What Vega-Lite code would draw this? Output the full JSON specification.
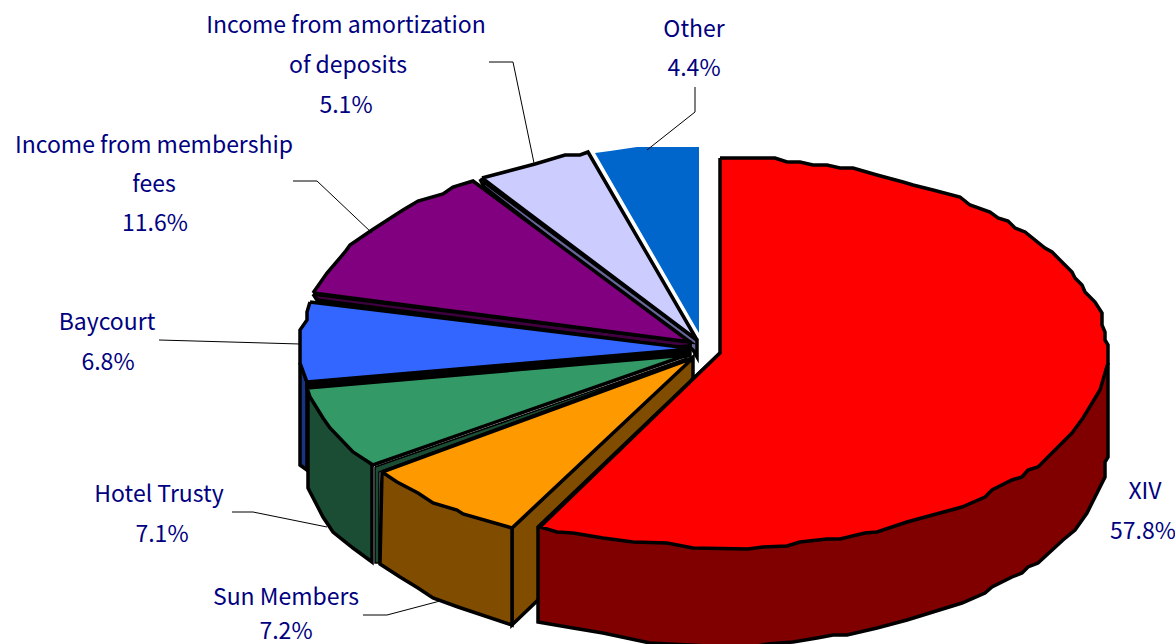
{"$schema":"https://vega.github.io/schema/vega-lite/v6.json","width":1175,"height":644,"padding":0,"autosize":{"type":"none"},"background":"white","view":{"stroke":null},
"config":{"font":"Noto Sans CJK JP"},
"datasets":{"outlines":[
{"part":"Other","i":0,"x":595,"y":153},{"part":"Other","i":1,"x":610,"y":151},{"part":"Other","i":2,"x":637,"y":147},{"part":"Other","i":3,"x":699,"y":147},{"part":"Other","i":4,"x":699,"y":333},{"part":"Other","i":5,"x":595,"y":153},
{"part":"Deposits side","i":0,"x":480,"y":179},{"part":"Deposits side","i":1,"x":484,"y":187},{"part":"Deposits side","i":2,"x":693,"y":350},{"part":"Deposits side","i":3,"x":697,"y":357},{"part":"Deposits side","i":4,"x":697,"y":340},{"part":"Deposits side","i":5,"x":480,"y":179},
{"part":"Deposits","i":0,"x":482,"y":178},{"part":"Deposits","i":1,"x":535,"y":164},{"part":"Deposits","i":2,"x":565,"y":155},{"part":"Deposits","i":3,"x":580,"y":155},{"part":"Deposits","i":4,"x":588,"y":152},{"part":"Deposits","i":5,"x":697,"y":340},{"part":"Deposits","i":6,"x":482,"y":178},
{"part":"Membership side","i":0,"x":313,"y":294},{"part":"Membership side","i":1,"x":317,"y":300},{"part":"Membership side","i":2,"x":690,"y":349},{"part":"Membership side","i":3,"x":690,"y":342},{"part":"Membership side","i":4,"x":313,"y":294},
{"part":"Membership","i":0,"x":313,"y":293},{"part":"Membership","i":1,"x":327,"y":273},{"part":"Membership","i":2,"x":345,"y":252},{"part":"Membership","i":3,"x":350,"y":245},{"part":"Membership","i":4,"x":372,"y":230},{"part":"Membership","i":5,"x":403,"y":210},{"part":"Membership","i":6,"x":418,"y":201},{"part":"Membership","i":7,"x":443,"y":194},{"part":"Membership","i":8,"x":453,"y":187},{"part":"Membership","i":9,"x":473,"y":181},{"part":"Membership","i":10,"x":690,"y":342},{"part":"Membership","i":11,"x":313,"y":293},
{"part":"Baycourt side","i":0,"x":300,"y":363},{"part":"Baycourt side","i":1,"x":300,"y":465},{"part":"Baycourt side","i":2,"x":307,"y":470},{"part":"Baycourt side","i":3,"x":307,"y":382},{"part":"Baycourt side","i":4,"x":300,"y":363},
{"part":"Baycourt inner","i":0,"x":307,"y":382},{"part":"Baycourt inner","i":1,"x":307,"y":388},{"part":"Baycourt inner","i":2,"x":690,"y":356},{"part":"Baycourt inner","i":3,"x":690,"y":346},{"part":"Baycourt inner","i":4,"x":307,"y":382},
{"part":"Baycourt","i":0,"x":310,"y":302},{"part":"Baycourt","i":1,"x":307,"y":312},{"part":"Baycourt","i":2,"x":307,"y":320},{"part":"Baycourt","i":3,"x":300,"y":330},{"part":"Baycourt","i":4,"x":300,"y":363},{"part":"Baycourt","i":5,"x":307,"y":382},{"part":"Baycourt","i":6,"x":680,"y":350},{"part":"Baycourt","i":7,"x":680,"y":347},{"part":"Baycourt","i":8,"x":310,"y":302},
{"part":"Hotel side","i":0,"x":308,"y":392},{"part":"Hotel side","i":1,"x":308,"y":488},{"part":"Hotel side","i":2,"x":323,"y":517},{"part":"Hotel side","i":3,"x":333,"y":532},{"part":"Hotel side","i":4,"x":353,"y":548},{"part":"Hotel side","i":5,"x":372,"y":562},{"part":"Hotel side","i":6,"x":372,"y":465},{"part":"Hotel side","i":7,"x":308,"y":392},
{"part":"Hotel inner","i":0,"x":375,"y":467},{"part":"Hotel inner","i":1,"x":375,"y":563},{"part":"Hotel inner","i":2,"x":379,"y":563},{"part":"Hotel inner","i":3,"x":379,"y":472},{"part":"Hotel inner","i":4,"x":687,"y":358},{"part":"Hotel inner","i":5,"x":375,"y":467},
{"part":"Hotel","i":0,"x":307,"y":388},{"part":"Hotel","i":1,"x":310,"y":397},{"part":"Hotel","i":2,"x":323,"y":418},{"part":"Hotel","i":3,"x":330,"y":428},{"part":"Hotel","i":4,"x":353,"y":452},{"part":"Hotel","i":5,"x":373,"y":465},{"part":"Hotel","i":6,"x":687,"y":355},{"part":"Hotel","i":7,"x":307,"y":388},
{"part":"Sun inner","i":0,"x":512,"y":528},{"part":"Sun inner","i":1,"x":512,"y":625},{"part":"Sun inner","i":2,"x":540,"y":598},{"part":"Sun inner","i":3,"x":693,"y":378},{"part":"Sun inner","i":4,"x":693,"y":357},{"part":"Sun inner","i":5,"x":512,"y":528},
{"part":"Sun side","i":0,"x":382,"y":472},{"part":"Sun side","i":1,"x":380,"y":564},{"part":"Sun side","i":2,"x":400,"y":577},{"part":"Sun side","i":3,"x":418,"y":588},{"part":"Sun side","i":4,"x":433,"y":598},{"part":"Sun side","i":5,"x":458,"y":607},{"part":"Sun side","i":6,"x":512,"y":625},{"part":"Sun side","i":7,"x":512,"y":528},{"part":"Sun side","i":8,"x":382,"y":472},
{"part":"Sun","i":0,"x":382,"y":472},{"part":"Sun","i":1,"x":397,"y":482},{"part":"Sun","i":2,"x":418,"y":493},{"part":"Sun","i":3,"x":433,"y":503},{"part":"Sun","i":4,"x":457,"y":510},{"part":"Sun","i":5,"x":463,"y":514},{"part":"Sun","i":6,"x":512,"y":528},{"part":"Sun","i":7,"x":693,"y":358},{"part":"Sun","i":8,"x":382,"y":472},
{"part":"XIV side","i":0,"x":1108,"y":363},{"part":"XIV side","i":1,"x":1108,"y":457},{"part":"XIV side","i":2,"x":1105,"y":462},{"part":"XIV side","i":3,"x":1105,"y":477},{"part":"XIV side","i":4,"x":1087,"y":513},{"part":"XIV side","i":5,"x":1075,"y":530},{"part":"XIV side","i":6,"x":1063,"y":540},{"part":"XIV side","i":7,"x":1038,"y":563},{"part":"XIV side","i":8,"x":1028,"y":567},{"part":"XIV side","i":9,"x":1022,"y":573},{"part":"XIV side","i":10,"x":1012,"y":577},{"part":"XIV side","i":11,"x":992,"y":587},{"part":"XIV side","i":12,"x":985,"y":593},{"part":"XIV side","i":13,"x":962,"y":603},{"part":"XIV side","i":14,"x":907,"y":620},{"part":"XIV side","i":15,"x":877,"y":628},{"part":"XIV side","i":16,"x":847,"y":635},{"part":"XIV side","i":17,"x":833,"y":635},{"part":"XIV side","i":18,"x":817,"y":638},{"part":"XIV side","i":19,"x":793,"y":642},{"part":"XIV side","i":20,"x":767,"y":644},{"part":"XIV side","i":21,"x":748,"y":648},{"part":"XIV side","i":22,"x":650,"y":643},{"part":"XIV side","i":23,"x":603,"y":633},{"part":"XIV side","i":24,"x":573,"y":628},{"part":"XIV side","i":25,"x":538,"y":622},{"part":"XIV side","i":26,"x":538,"y":527},{"part":"XIV side","i":27,"x":720,"y":353},{"part":"XIV side","i":28,"x":1108,"y":363},
{"part":"XIV","i":0,"x":720,"y":158},{"part":"XIV","i":1,"x":775,"y":158},{"part":"XIV","i":2,"x":787,"y":162},{"part":"XIV","i":3,"x":800,"y":162},{"part":"XIV","i":4,"x":813,"y":165},{"part":"XIV","i":5,"x":827,"y":165},{"part":"XIV","i":6,"x":840,"y":168},{"part":"XIV","i":7,"x":853,"y":168},{"part":"XIV","i":8,"x":877,"y":175},{"part":"XIV","i":9,"x":903,"y":182},{"part":"XIV","i":10,"x":913,"y":185},{"part":"XIV","i":11,"x":933,"y":190},{"part":"XIV","i":12,"x":960,"y":197},{"part":"XIV","i":13,"x":970,"y":205},{"part":"XIV","i":14,"x":990,"y":212},{"part":"XIV","i":15,"x":998,"y":218},{"part":"XIV","i":16,"x":1008,"y":221},{"part":"XIV","i":17,"x":1015,"y":228},{"part":"XIV","i":18,"x":1025,"y":232},{"part":"XIV","i":19,"x":1045,"y":248},{"part":"XIV","i":20,"x":1052,"y":252},{"part":"XIV","i":21,"x":1072,"y":272},{"part":"XIV","i":22,"x":1075,"y":278},{"part":"XIV","i":23,"x":1082,"y":285},{"part":"XIV","i":24,"x":1085,"y":292},{"part":"XIV","i":25,"x":1095,"y":302},{"part":"XIV","i":26,"x":1102,"y":313},{"part":"XIV","i":27,"x":1102,"y":325},{"part":"XIV","i":28,"x":1105,"y":332},{"part":"XIV","i":29,"x":1105,"y":340},{"part":"XIV","i":30,"x":1108,"y":345},{"part":"XIV","i":31,"x":1108,"y":363},{"part":"XIV","i":32,"x":1100,"y":390},{"part":"XIV","i":33,"x":1083,"y":418},{"part":"XIV","i":34,"x":1072,"y":433},{"part":"XIV","i":35,"x":1058,"y":447},{"part":"XIV","i":36,"x":1038,"y":467},{"part":"XIV","i":37,"x":1028,"y":470},{"part":"XIV","i":38,"x":1022,"y":477},{"part":"XIV","i":39,"x":1012,"y":480},{"part":"XIV","i":40,"x":992,"y":490},{"part":"XIV","i":41,"x":985,"y":497},{"part":"XIV","i":42,"x":962,"y":507},{"part":"XIV","i":43,"x":940,"y":513},{"part":"XIV","i":44,"x":907,"y":522},{"part":"XIV","i":45,"x":877,"y":532},{"part":"XIV","i":46,"x":865,"y":533},{"part":"XIV","i":47,"x":840,"y":539},{"part":"XIV","i":48,"x":827,"y":539},{"part":"XIV","i":49,"x":800,"y":542},{"part":"XIV","i":50,"x":787,"y":546},{"part":"XIV","i":51,"x":763,"y":547},{"part":"XIV","i":52,"x":748,"y":549},{"part":"XIV","i":53,"x":693,"y":548},{"part":"XIV","i":54,"x":667,"y":543},{"part":"XIV","i":55,"x":633,"y":542},{"part":"XIV","i":56,"x":603,"y":538},{"part":"XIV","i":57,"x":573,"y":533},{"part":"XIV","i":58,"x":557,"y":532},{"part":"XIV","i":59,"x":540,"y":527},{"part":"XIV","i":60,"x":720,"y":353},{"part":"XIV","i":61,"x":720,"y":158}
],
"leaders":[
{"to":"Other","i":0,"x":695,"y":87},{"to":"Other","i":1,"x":695,"y":112},{"to":"Other","i":2,"x":647,"y":150},
{"to":"Deposits","i":0,"x":489,"y":62},{"to":"Deposits","i":1,"x":513,"y":62},{"to":"Deposits","i":2,"x":534,"y":163},
{"to":"Membership","i":0,"x":293,"y":181},{"to":"Membership","i":1,"x":317,"y":181},{"to":"Membership","i":2,"x":372,"y":233},
{"to":"Baycourt","i":0,"x":159,"y":340},{"to":"Baycourt","i":1,"x":300,"y":344},
{"to":"Hotel","i":0,"x":232,"y":512},{"to":"Hotel","i":1,"x":253,"y":512},{"to":"Hotel","i":2,"x":327,"y":527},
{"to":"Sun","i":0,"x":363,"y":615},{"to":"Sun","i":1,"x":387,"y":615},{"to":"Sun","i":2,"x":440,"y":601}
],
"labels":[
{"text":"Income from amortization","x":346,"y":26},{"text":"of deposits","x":348,"y":66},{"text":"5.1%","x":346,"y":106},
{"text":"Income from membership","x":154,"y":146},{"text":"fees","x":154,"y":185},{"text":"11.6%","x":155,"y":224},
{"text":"Other","x":694,"y":30},{"text":"4.4%","x":694,"y":69},
{"text":"Baycourt","x":107,"y":323},{"text":"6.8%","x":108,"y":363},
{"text":"Hotel Trusty","x":159,"y":495},{"text":"7.1%","x":162,"y":535},
{"text":"Sun Members","x":286,"y":598},{"text":"7.2%","x":286,"y":632},
{"text":"XIV","x":1145,"y":492},{"text":"57.8%","x":1143,"y":532}
]},
"layer":[
{"data":{"name":"outlines"},
"mark":{"type":"line","stroke":"black","strokeJoin":"miter","clip":true},
"encoding":{"x":{"field":"x","type":"quantitative","scale":{"domain":[0,1175],"nice":false},"axis":null},"y":{"field":"y","type":"quantitative","scale":{"domain":[644,0],"nice":false},"axis":null},
"order":{"field":"i","type":"quantitative"},
"strokeWidth":{"condition":{"test":"datum.part==='Hotel inner'","value":1.5},"value":3.5},
"strokeOpacity":{"condition":{"test":"datum.part==='Other'","value":0},"value":1},
"fill":{"field":"part","type":"nominal","legend":null,"scale":{"domain":["Other","Deposits side","Deposits","Membership side","Membership","Baycourt side","Baycourt inner","Baycourt","Hotel side","Hotel inner","Hotel","Sun inner","Sun side","Sun","XIV side","XIV"],"range":["#0066CC","#666699","#CCCCFF","#400040","#800080","#1A3380","#000000","#3366FF","#1A4D33","#1A4D33","#339966","#804D00","#804D00","#FF9900","#800000","#FF0000"]}}}},
{"data":{"name":"leaders"},"mark":{"type":"line","stroke":"black","strokeWidth":1},
"encoding":{"x":{"field":"x","type":"quantitative"},"y":{"field":"y","type":"quantitative"},"detail":{"field":"to"},"order":{"field":"i","type":"quantitative"}}},
{"data":{"name":"labels"},"mark":{"type":"text","align":"center","baseline":"middle","fontSize":23,"color":"#000080","font":"Noto Sans CJK JP"},
"encoding":{"x":{"field":"x","type":"quantitative"},"y":{"field":"y","type":"quantitative"},"text":{"field":"text"}}}
]}
